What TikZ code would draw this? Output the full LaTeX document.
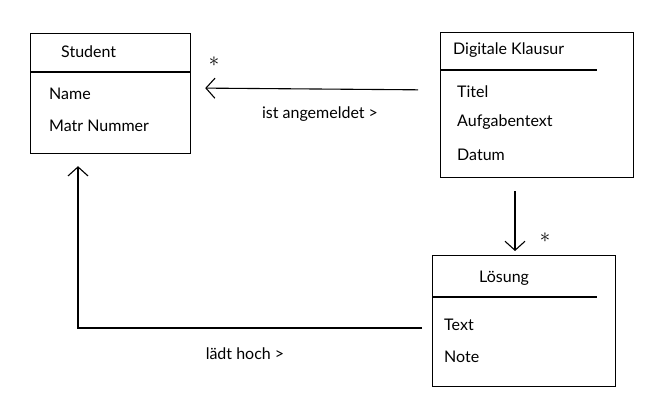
\documentclass[tikz,border=0pt]{standalone}
\usepackage{fontspec}
\setmainfont{Lato}
\usetikzlibrary{arrows.meta,positioning}

\begin{document}
\begin{tikzpicture}[
    x=1pt, y=-1pt,
    font=\fontsize{16}{19}\selectfont,
    cls/.style={draw, line width=1.2pt, anchor=north west, inner sep=0pt},
    sep/.style={line width=1.1pt},
    attr/.style={anchor=west, inner sep=1pt},
    assoc/.style={line width=1.1pt, -{Straight Barb[length=9pt,width=20pt]}},
    mult/.style={font=\fontsize{20}{20}\selectfont}
]
\useasboundingbox (0,0) rectangle (669,409);

% Klassen
\node[cls, minimum width=160pt, minimum height=120pt] (student) at (30,33) {};
\draw[sep] (student.west |- 0,72) -- (student.east |- 0,72);
\node[attr] (sname) at (60,52) {Student};
\node[attr] (name) at (48,94) {Name};
\node[attr] (matr) at (48,126) {Matr Nummer};

\node[cls, minimum width=193pt, minimum height=145pt] (klausur) at (440,32) {};
\draw[sep] (klausur.west |- 0,70) -- (597,70);
\node[attr] (kname) at (452,50) {Digitale Klausur};
\node[attr] (titel) at (456,92) {Titel};
\node[attr] (aufg) at (456,122) {Aufgabentext};
\node[attr] (datum) at (456,155) {Datum};

\node[cls, minimum width=183pt, minimum height=131pt] (loesung) at (432,255) {};
\draw[sep] (loesung.west |- 0,297) -- (597,297);
\node[attr] (lname) at (478,278) {Lösung};
\node[attr] (text) at (443,325) {Text};
\node[attr] (note) at (443,357) {Note};

% Assoziationen
\draw[assoc, shorten <=22pt, shorten >=14pt] (klausur.west |- 0,90) -- (student.east |- 0,88);
\node[mult] (m1) at (214,62) {$\ast$};
\node (l1) at (320,114) {ist angemeldet >};

\draw[assoc, shorten <=13pt, shorten >=4pt] (klausur.south -| 515,0) -- (loesung.north -| 515,0);
\node[mult] (m2) at (545,238) {$\ast$};

\coordinate (knick) at (78,328);
\draw[assoc, shorten >=12pt] ([xshift=-10pt]loesung.west |- 0,328) -- (knick) -- (student.south -| knick);
\node (l2) at (245,354) {lädt hoch >};
\end{tikzpicture}
\end{document}
